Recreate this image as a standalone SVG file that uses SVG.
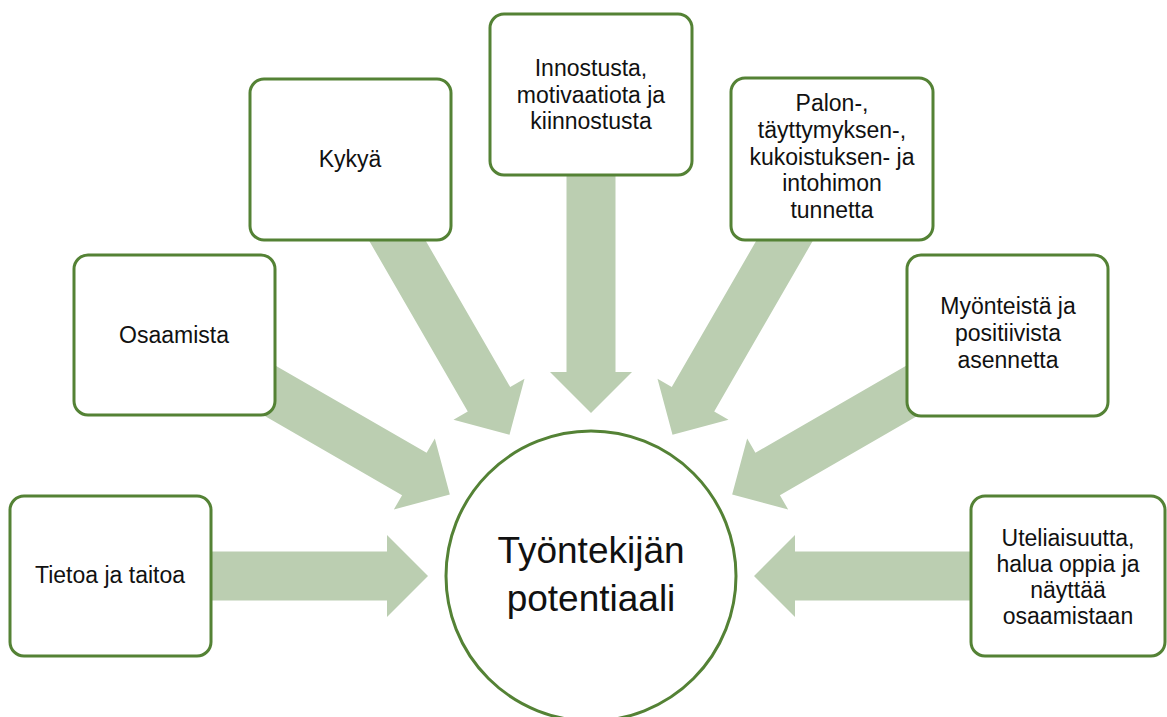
<svg xmlns="http://www.w3.org/2000/svg" width="1167" height="717" viewBox="0 0 1167 717">
<style>
.box{fill:#ffffff;stroke:#548235;stroke-width:3}
.arr{fill:#bbceb1}
.t{font-family:"Liberation Sans",Arial,sans-serif;font-size:23px;fill:#111111;text-anchor:middle}
.big{font-family:"Liberation Sans",Arial,sans-serif;font-size:37px;fill:#111111;text-anchor:middle}
</style>
<defs>
<polygon id="arrow" points="-423,-24.5 -204,-24.5 -204,-41 -163,0 -204,41 -204,24.5 -423,24.5"/>
</defs>
<rect width="1167" height="717" fill="#ffffff"/>
<g id="connectors">
<use href="#arrow" class="arr" transform="translate(591,576) rotate(0)"/>
<use href="#arrow" class="arr" transform="translate(591,576) rotate(30)"/>
<use href="#arrow" class="arr" transform="translate(591,576) rotate(60)"/>
<use href="#arrow" class="arr" transform="translate(591,576) rotate(90)"/>
<use href="#arrow" class="arr" transform="translate(591,576) rotate(120)"/>
<use href="#arrow" class="arr" transform="translate(591,576) rotate(150)"/>
<use href="#arrow" class="arr" transform="translate(591,576) rotate(180)"/>
</g>
<g id="n-tietoa">
<rect class="box" x="10" y="496" width="201" height="160" rx="14"/>
<text class="t" x="110" y="583">Tietoa ja taitoa</text>
</g>
<g id="n-osaamista">
<rect class="box" x="74" y="255" width="201" height="160" rx="14"/>
<text class="t" x="174" y="343">Osaamista</text>
</g>
<g id="n-kykya">
<rect class="box" x="250" y="79" width="201" height="161" rx="14"/>
<text class="t" x="350" y="167">Kykyä</text>
</g>
<g id="n-innostusta">
<rect class="box" x="490" y="14" width="202" height="161" rx="14"/>
<text class="t" x="591" y="76">Innostusta,</text>
<text class="t" x="591" y="102.5">motivaatiota ja</text>
<text class="t" x="591" y="129">kiinnostusta</text>
</g>
<g id="n-palon">
<rect class="box" x="731" y="78" width="202" height="162" rx="14"/>
<text class="t" x="832" y="111">Palon-,</text>
<text class="t" x="832" y="138">täyttymyksen-,</text>
<text class="t" x="832" y="164.5">kukoistuksen- ja</text>
<text class="t" x="832" y="191">intohimon</text>
<text class="t" x="832" y="218">tunnetta</text>
</g>
<g id="n-myonteista">
<rect class="box" x="907" y="255" width="201" height="161" rx="14"/>
<text class="t" x="1008" y="314">Myönteistä ja</text>
<text class="t" x="1008" y="341">positiivista</text>
<text class="t" x="1008" y="368">asennetta</text>
</g>
<g id="n-uteliaisuutta">
<rect class="box" x="971" y="496" width="194" height="160" rx="14"/>
<text class="t" x="1068" y="546">Uteliaisuutta,</text>
<text class="t" x="1068" y="572">halua oppia ja</text>
<text class="t" x="1068" y="598">näyttää</text>
<text class="t" x="1068" y="624">osaamistaan</text>
</g>
<g id="n-center">
<circle cx="591" cy="576" r="145" fill="#ffffff" stroke="#548235" stroke-width="3"/>
<text class="big" x="591" y="563">Työntekijän</text>
<text class="big" x="591" y="611">potentiaali</text>
</g>
</svg>
